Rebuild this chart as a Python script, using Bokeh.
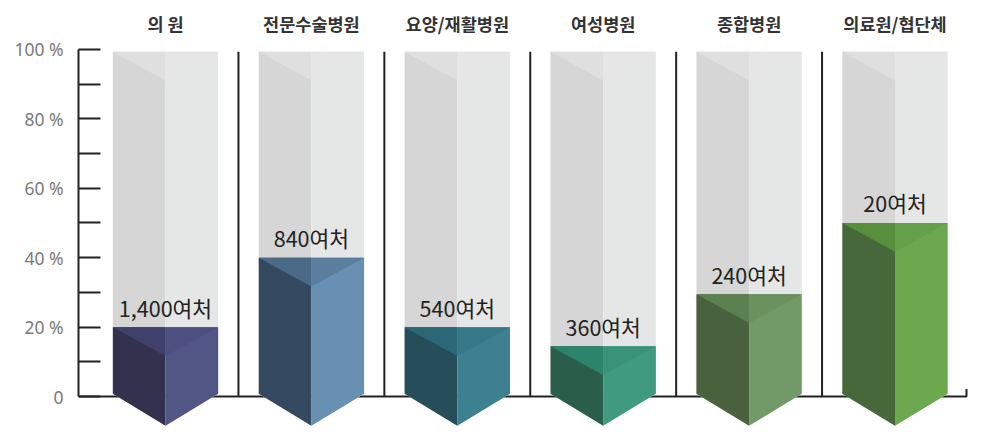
from bokeh.plotting import figure
from bokeh.models import Range1d, LinearAxis, FixedTicker, ColumnDataSource
from bokeh.embed import file_html
from bokeh.resources import INLINE
from bokeh.core.properties import value

# ---- data ----
categories = ["의 원", "전문수술병원", "요양/재활병원", "여성병원", "종합병원", "의료원/협단체"]
shares = [20, 40, 20, 14.5, 29.5, 50]          # percent
count_labels = ["1,400여처", "840여처", "540여처", "360여처", "240여처", "20여처"]
y_ticks = [0, 20, 40, 60, 80, 100]
y_tick_labels = ["0", "20 %", "40 %", "60 %", "80 %", "100 %"]
y_minor_ticks = [10, 30, 50, 70, 90]
full_share = 99.3

# ---- styles ----
left_colors = ["#34314f", "#34495f", "#254d5a", "#2b5e4a", "#4a613d", "#47683a"]
right_colors = ["#525684", "#6890b2", "#3d8090", "#409a80", "#719a68", "#6ca84e"]
top_left_colors = ["#3f406c", "#4a6a88", "#2a6878", "#2c856a", "#5c8150", "#588f3d"]
top_right_colors = ["#4c4f7f", "#5a7e9e", "#367888", "#3a9378", "#6a915e", "#65a04b"]
gray_left, gray_right, gray_top_left, gray_top_right = "#d6d6d6", "#e5e6e6", "#dfdfdf", "#e6e6e6"

half_w = 0.361
top_depth = 8.3
bot_depth = 9.2
base = 0.8
x_lo, x_hi = -0.5963, 5.5723

p = figure(width=978, height=426,
           x_range=Range1d(x_lo, x_hi), y_range=Range1d(-8.61, 114.07),
           output_backend="svg", toolbar_location=None,
           x_axis_location=None, y_axis_location=None,
           min_border_left=78, min_border_right=0, min_border_top=0, min_border_bottom=0)
p.outline_line_color = None
p.xgrid.visible = False
p.ygrid.visible = False
p.background_fill_color = "white"

centers = list(range(len(categories)))

# baseline with end tick
p.line(x=[x_lo, 5.49, 5.49], y=[0, 0, 2.2], line_color="#222222", line_width=2)
# separators
p.segment(x0=[c + 0.5 for c in centers[:-1]], y0=[0] * 5,
          x1=[c + 0.5 for c in centers[:-1]], y1=[full_share] * 5,
          line_color="#222222", line_width=2)

xs, ys, cols = [], [], []
def prism(c, top, lc, rc, tlc, trc):
    xs.append([c - half_w, c - half_w, c, c]); ys.append([base, top, top, base - bot_depth]); cols.append(lc)
    xs.append([c, c, c + half_w, c + half_w]); ys.append([base - bot_depth, top, top, base]); cols.append(rc)
    xs.append([c - half_w, c, c]); ys.append([top, top, top - top_depth]); cols.append(tlc)
    xs.append([c, c + half_w, c]); ys.append([top, top, top - top_depth]); cols.append(trc)

for i, c in enumerate(centers):
    prism(c, full_share, gray_left, gray_right, gray_top_left, gray_top_right)
for i, c in enumerate(centers):
    prism(c, shares[i], left_colors[i], right_colors[i], top_left_colors[i], top_right_colors[i])

p.patches(xs="xs", ys="ys", fill_color="cols", line_color=None,
          source=ColumnDataSource(dict(xs=xs, ys=ys, cols=cols)))

# value labels
p.text(x=centers, y=shares, text=count_labels, text_align="center", text_baseline="alphabetic",
       y_offset=-20, text_font=value("Noto Sans CJK KR"), text_font_size="21.5px", text_color="#222222")

# category titles
p.text(x=centers, y=[107.4] * len(categories), text=categories, text_align="center", text_baseline="middle",
       text_font=value("Noto Sans CJK KR"), text_font_size="17.5px", text_font_style="bold",
       text_color="#333333")

# y axis
ax = LinearAxis(bounds=(0, 100))
ax.ticker = FixedTicker(ticks=y_ticks, minor_ticks=y_minor_ticks)
ax.major_label_overrides = {t: l for t, l in zip(y_ticks, y_tick_labels)}
ax.major_tick_in = 22
ax.major_tick_out = 0
ax.minor_tick_in = 22
ax.minor_tick_out = 0
ax.axis_line_width = 2
ax.major_tick_line_width = 2
ax.minor_tick_line_width = 2
ax.axis_line_color = "#222222"
ax.major_tick_line_color = "#222222"
ax.minor_tick_line_color = "#222222"
ax.major_label_standoff = 15
ax.major_label_text_font = "Noto Sans"
ax.major_label_text_font_size = "17.5px"
ax.major_label_text_color = "#7a7a7a"
p.add_layout(ax, "left")

open("out.html", "w").write(file_html(p, INLINE))
